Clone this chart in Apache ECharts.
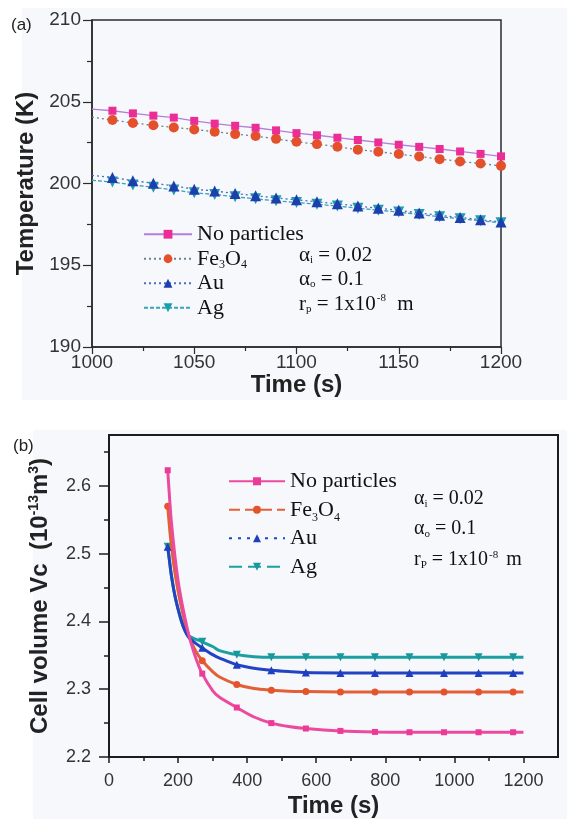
<!DOCTYPE html>
<html>
<head>
<meta charset="utf-8">
<script src="https://cdn.jsdelivr.net/npm/echarts@6/dist/echarts.min.js"></script>
<style>html,body{margin:0;padding:0;background:#fff}#c{width:567px;height:819px}</style>
</head>
<body>
<div id="c"></div>
<script>
// ---------- Panel (a) data ----------
const aTime = [1000,1010,1020,1030,1040,1050,1060,1070,1080,1090,1100,1110,1120,1130,1140,1150,1160,1170,1180,1190,1200];
const aNoParticles = [204.55,204.45,204.29,204.15,204.03,203.83,203.66,203.53,203.41,203.25,203.08,202.95,202.80,202.66,202.51,202.37,202.24,202.11,201.96,201.81,201.66];
const aFe3O4 = [204.06,203.88,203.70,203.56,203.43,203.30,203.17,203.02,202.90,202.73,202.55,202.41,202.25,202.07,201.94,201.80,201.65,201.49,201.35,201.22,201.08];
const aAu = [200.50,200.37,200.17,200.02,199.85,199.65,199.54,199.39,199.25,199.12,199.00,198.88,198.76,198.62,198.49,198.36,198.20,198.06,197.92,197.79,197.65];
const aAg = [200.20,200.09,199.91,199.77,199.61,199.43,199.33,199.19,199.06,198.94,198.84,198.73,198.62,198.49,198.37,198.25,198.10,197.97,197.84,197.72,197.60];
const aXTicks = [1000,1050,1100,1150,1200];
const aYTicks = [190,195,200,205,210];
const aNoMarkTimes = [1000];

// ---------- Panel (b) data ----------
const bTime = [170,175,180,190,200,210,220,230,250,270,300,320,370,420,470,520,570,670,770,870,970,1070,1170,1200];
const bNoParticles = [2.623,2.585,2.550,2.500,2.460,2.430,2.405,2.382,2.348,2.323,2.298,2.288,2.273,2.259,2.250,2.245,2.242,2.2385,2.237,2.2365,2.2365,2.2365,2.2365,2.2365];
const bFe3O4 = [2.570,2.540,2.515,2.475,2.445,2.420,2.398,2.380,2.357,2.342,2.326,2.318,2.307,2.301,2.2985,2.297,2.2965,2.296,2.296,2.296,2.296,2.296,2.296,2.296];
const bAu = [2.510,2.490,2.470,2.440,2.418,2.400,2.386,2.377,2.368,2.361,2.351,2.346,2.336,2.331,2.328,2.326,2.3245,2.324,2.324,2.324,2.324,2.324,2.324,2.324];
const bAg = [2.510,2.490,2.470,2.440,2.418,2.400,2.387,2.379,2.374,2.370,2.363,2.357,2.351,2.348,2.347,2.347,2.347,2.347,2.347,2.347,2.347,2.347,2.347,2.347];
const bMarkTimes = [170,270,370,470,570,670,770,870,970,1070,1170];
const bXTicks = [0,200,400,600,800,1000,1200];
const bXMinor = [100,300,500,700,900,1100];
const bXMax = 1300;
const bYTicks = [2.2,2.3,2.4,2.5,2.6];
const bYMinor = [2.25,2.35,2.45,2.55,2.65];
const bYMax = 2.675;

const SANS = 'Liberation Sans, Arial, sans-serif';
const SERIF = 'Liberation Serif, Times New Roman, serif';

function aData(vals){
  return aTime.map((t,i)=> aNoMarkTimes.indexOf(t) >= 0 ? {value:[t,vals[i]], symbol:'none'} : {value:[t,vals[i]]});
}
function bData(vals){
  return bTime.map((t,i)=> bMarkTimes.indexOf(t) >= 0 ? {value:[t,vals[i]]} : {value:[t,vals[i]], symbol:'none'});
}

const legendFmt = function(name){
  const n = name.replace(/^b:/,'');
  if (n === 'Fe3O4') return 'Fe{s|3}O{s|4}';
  return n;
};
const plain = function(v){ return String(v); };

const subRich = function(fs, lh){ return {fontSize:fs, fontFamily:SERIF, fill:'#111', verticalAlign:'bottom', lineHeight:lh}; };
const supRich = function(fs, pr){ return {fontSize:fs, fontFamily:SERIF, fill:'#111', verticalAlign:'top', padding:[0,pr,0,1]}; };

const chart = echarts.init(document.getElementById('c'), null, {renderer:'canvas'});
const option = {
  animation: false,
  backgroundColor: '#ffffff',
  graphic: [
    {type:'rect', z:-10, shape:{x:22,y:8,width:545,height:392}, style:{fill:'#f6f8fc'}, silent:true},
    {type:'rect', z:-10, shape:{x:33,y:430,width:534,height:389}, style:{fill:'#f6f8fc'}, silent:true},
    {type:'text', x:11, y:25, style:{text:'(a)', fontSize:17, fontFamily:SANS, fill:'#222', verticalAlign:'middle'}},
    {type:'text', x:13, y:446, style:{text:'(b)', fontSize:17, fontFamily:SANS, fill:'#222', verticalAlign:'middle'}},
    {type:'text', x:299, y:255, style:{text:'α{s|i} = 0.02', fontSize:21, fontFamily:SERIF, fill:'#111', verticalAlign:'middle',
      rich:{s:subRich(11,22)}}},
    {type:'text', x:299, y:279, style:{text:'α{s|o} = 0.1', fontSize:21, fontFamily:SERIF, fill:'#111', verticalAlign:'middle',
      rich:{s:subRich(11,22)}}},
    {type:'text', x:299, y:304, style:{text:'r{s|p} = 1x10{sup|-8} m', fontSize:21, fontFamily:SERIF, fill:'#111', verticalAlign:'middle',
      rich:{s:subRich(11,22), sup:supRich(11,6)}}},
    {type:'text', x:414, y:499, style:{text:'α{s|i} = 0.02', fontSize:20, fontFamily:SERIF, fill:'#111', verticalAlign:'middle',
      rich:{s:subRich(11,21)}}},
    {type:'text', x:414, y:529, style:{text:'α{s|o} = 0.1', fontSize:20, fontFamily:SERIF, fill:'#111', verticalAlign:'middle',
      rich:{s:subRich(11,21)}}},
    {type:'text', x:414, y:560, style:{text:'r{s|P} = 1x10{sup|-8} m', fontSize:20, fontFamily:SERIF, fill:'#111', verticalAlign:'middle',
      rich:{s:subRich(11,21), sup:supRich(11,3)}}}
  ],
  grid: [
    {left:92, right:66, top:20, height:327, show:true, borderColor:'#2b2b2b', borderWidth:1.5, backgroundColor:'transparent'},
    {left:109, right:9, top:435, height:324, show:true, borderColor:'#1c1c1c', borderWidth:2, backgroundColor:'transparent'}
  ],
  legend: [
    {
      orient:'vertical', left:143, top:222, padding:0, itemGap:0, itemWidth:48, itemHeight:11,
      data:['No particles','Fe3O4','Au','Ag'],
      formatter: legendFmt,
      textStyle:{fontFamily:SERIF, fontSize:22, color:'#111', lineHeight:24.5,
        rich:{s:{fontSize:12, fontFamily:SERIF, color:'#111', verticalAlign:'bottom', lineHeight:20}}},
      selectedMode:false
    },
    {
      orient:'vertical', left:228, top:467, padding:0, itemGap:0, itemWidth:56, itemHeight:10,
      data:[
        {name:'b:No particles'},
        {name:'b:Fe3O4', lineStyle:{type:[11,5]}},
        {name:'b:Au', lineStyle:{type:[3,6]}},
        {name:'b:Ag', lineStyle:{type:[13,6]}}
      ],
      formatter: legendFmt,
      textStyle:{fontFamily:SERIF, fontSize:22, color:'#111', lineHeight:28.5,
        rich:{s:{fontSize:12, fontFamily:SERIF, color:'#111', verticalAlign:'bottom', lineHeight:22}}},
      selectedMode:false
    }
  ],
  xAxis: [
    {
      gridIndex:0, type:'value', min:aXTicks[0], max:aXTicks[aXTicks.length-1], interval:aXTicks[1]-aXTicks[0],
      name:'Time (s)', nameLocation:'middle', nameGap:21,
      nameTextStyle:{fontFamily:SANS, fontSize:24, fontWeight:'bold', color:'#222'},
      axisLine:{show:true, lineStyle:{color:'#2b2b2b', width:1.5}},
      axisTick:{show:true, length:7, lineStyle:{color:'#2b2b2b', width:1.2}},
      minorTick:{show:true, splitNumber:2, length:4, lineStyle:{color:'#2b2b2b', width:1.2}},
      axisLabel:{fontFamily:SANS, fontSize:19, color:'#333', margin:6, formatter:plain},
      splitLine:{show:false}
    },
    {
      gridIndex:1, type:'value', min:0, max:bXMax, position:'bottom',
      name:'Time (s)', nameLocation:'middle', nameGap:37,
      nameTextStyle:{fontFamily:SANS, fontSize:24, fontWeight:'bold', color:'#222'},
      axisLine:{show:true, lineStyle:{color:'#1c1c1c', width:2}},
      axisTick:{show:true, length:6, customValues:bXTicks, lineStyle:{color:'#1c1c1c', width:1.5}},
      axisLabel:{fontFamily:SANS, fontSize:18, color:'#333', margin:15, customValues:bXTicks, formatter:plain},
      splitLine:{show:false}
    },
    {
      gridIndex:1, type:'value', min:0, max:bXMax, position:'bottom', offset:0,
      axisLine:{show:false},
      axisTick:{show:true, length:4, customValues:bXMinor, lineStyle:{color:'#1c1c1c', width:1.5}},
      axisLabel:{show:false},
      splitLine:{show:false}
    }
  ],
  yAxis: [
    {
      gridIndex:0, type:'value', min:aYTicks[0], max:aYTicks[aYTicks.length-1], interval:aYTicks[1]-aYTicks[0],
      name:'Temperature (K)', nameLocation:'middle', nameGap:52, nameRotate:90,
      nameTextStyle:{fontFamily:SANS, fontSize:24, fontWeight:'bold', color:'#222'},
      axisLine:{show:true, lineStyle:{color:'#2b2b2b', width:1.5}},
      axisTick:{show:true, length:9, lineStyle:{color:'#2b2b2b', width:1.2}},
      minorTick:{show:true, splitNumber:2, length:5, lineStyle:{color:'#2b2b2b', width:1.2}},
      axisLabel:{fontFamily:SANS, fontSize:19, color:'#333', margin:11, formatter:plain},
      splitLine:{show:false}
    },
    {
      gridIndex:1, type:'value', min:bYTicks[0], max:bYMax, position:'left',
      name:'Cell volume Vc  (10{sup|-13}m{sup|3})', nameLocation:'middle', nameGap:56, nameRotate:90,
      nameTextStyle:{fontFamily:SANS, fontSize:24, fontWeight:'bold', color:'#222', lineHeight:26,
        rich:{sup:{fontFamily:SANS, fontSize:14, fontWeight:'bold', color:'#222', verticalAlign:'top'}}},
      axisLine:{show:true, lineStyle:{color:'#1c1c1c', width:2}},
      axisTick:{show:true, length:10, customValues:bYTicks, lineStyle:{color:'#1c1c1c', width:1.5}},
      axisLabel:{fontFamily:SANS, fontSize:18, color:'#333', margin:18, customValues:bYTicks,
        formatter:function(v){return v.toFixed(1);}},
      splitLine:{show:false}
    },
    {
      gridIndex:1, type:'value', min:bYTicks[0], max:bYMax, position:'left', offset:0,
      axisLine:{show:false},
      axisTick:{show:true, length:5, customValues:bYMinor, lineStyle:{color:'#1c1c1c', width:1.5}},
      axisLabel:{show:false},
      splitLine:{show:false}
    }
  ],
  series: [
    {name:'No particles', type:'line', xAxisIndex:0, yAxisIndex:0, data:aData(aNoParticles), clip:false,
     symbol:'rect', symbolSize:8, itemStyle:{color:'#ec2d96'}, lineStyle:{color:'#b77ddc', width:1.3, type:'solid'}, z:5},
    {name:'Fe3O4', type:'line', xAxisIndex:0, yAxisIndex:0, data:aData(aFe3O4), clip:false,
     symbol:'circle', symbolSize:10, itemStyle:{color:'#e4502b'}, lineStyle:{color:'#6f7f92', width:1.3, type:[2,3]}, z:4},
    {name:'Au', type:'line', xAxisIndex:0, yAxisIndex:0, data:aData(aAu), clip:false,
     symbol:'triangle', symbolSize:11, itemStyle:{color:'#1d3fae'}, lineStyle:{color:'#4a6cc4', width:1.3, type:[2,3]}, z:4},
    {name:'Ag', type:'line', xAxisIndex:0, yAxisIndex:0, data:aData(aAg), clip:false,
     symbol:'triangle', symbolRotate:180, symbolSize:11, itemStyle:{color:'#1aa0a8'}, lineStyle:{color:'#3aa3bb', width:1.3, type:[4,2]}, z:3},

    {name:'b:No particles', type:'line', xAxisIndex:1, yAxisIndex:1, data:bData(bNoParticles), clip:false, smooth:0.3,
     symbol:'rect', symbolSize:6, itemStyle:{color:'#ec3a98'}, lineStyle:{color:'#ec4a9e', width:3}, z:5},
    {name:'b:Fe3O4', type:'line', xAxisIndex:1, yAxisIndex:1, data:bData(bFe3O4), clip:false, smooth:0.3,
     symbol:'circle', symbolSize:7, itemStyle:{color:'#e3542c'}, lineStyle:{color:'#e35f36', width:3}, z:4},
    {name:'b:Au', type:'line', xAxisIndex:1, yAxisIndex:1, data:bData(bAu), clip:false, smooth:0.3,
     symbol:'triangle', symbolSize:8, itemStyle:{color:'#1e3fc0'}, lineStyle:{color:'#2244c2', width:3}, z:4},
    {name:'b:Ag', type:'line', xAxisIndex:1, yAxisIndex:1, data:bData(bAg), clip:false, smooth:0.3,
     symbol:'triangle', symbolRotate:180, symbolSize:8, itemStyle:{color:'#17999c'}, lineStyle:{color:'#1d9fa2', width:3}, z:3}
  ]
};
chart.setOption(option);
</script>
</body>
</html>
